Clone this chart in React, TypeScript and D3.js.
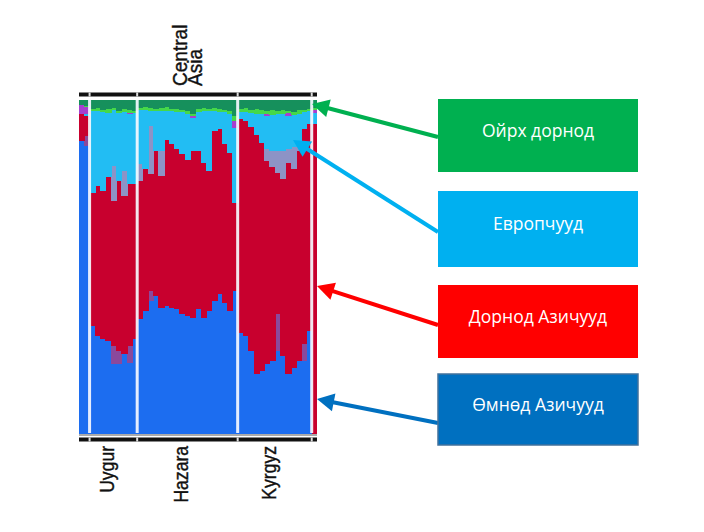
import React from "react";
import * as d3 from "d3";

// ---- data ----
const populationNames = ["", "Uygur", "Hazara", "Kyrgyz", ""];
const populationSizes = [2, 9, 19, 14, 1];
const regionLabel = ["Central", "Asia"];

const componentKeys = ["blue", "slateLow", "red", "slateHigh", "lightBlue", "purple", "brightGreen", "darkGreen"];

// ancestry shares (%) per individual column, left to right
const blue = [87.9, 86.4,
  32.4, 29.4, 28.5, 27.9, 21.0, 21.0, 24.0, 21.3, 28.5,
  34.5, 36.9, 39.9, 41.4, 37.8, 38.4, 37.8, 37.5, 36.0, 35.4, 34.8, 37.5, 34.8, 36.9, 39.9, 42.0, 39.3, 36.9, 42.9,
  30.3, 29.4, 24.9, 18.0, 18.9, 21.0, 21.9, 24.9, 23.4, 18.0, 19.8, 21.9, 21.9, 30.9,
  0];
const slateLow = [0, 3.0,
  0, 0, 0, 0, 5.4, 3.9, 0, 5.1, 0,
  0, 0, 3.0, 0, 0, 0, 0, 0, 0, 0, 0, 0, 0, 0, 0, 0, 0, 0, 0,
  0, 0, 0, 0, 0, 0, 0, 11.1, 0, 0, 0, 0, 5.1, 0,
  0];
const red = [8.1, 6.0,
  39.9, 45.0, 44.4, 49.2, 43.5, 51.0, 47.4, 48.6, 46.5,
  41.4, 42.6, 35.1, 43.5, 39.6, 49.8, 49.2, 48.0, 48.0, 46.8, 50.1, 47.4, 46.5, 42.0, 51.0, 49.5, 47.7, 47.4, 26.4,
  64.2, 64.5, 67.2, 71.7, 68.4, 60.9, 58.2, 42.3, 53.1, 63.3, 59.7, 63.0, 64.5, 62.1,
  93.0];
const slateHigh = [0, 0,
  0, 0, 0, 0, 10.5, 0, 7.5, 0, 0,
  5.1, 0, 14.4, 0, 7.5, 0, 0, 0, 0, 0, 0, 0, 0, 0, 0, 0, 0, 0, 0,
  0, 0, 0, 0, 0, 3.6, 4.8, 6.6, 8.4, 4.2, 6.6, 3.0, 0, 0,
  0];
const lightBlue = [0, 0.6,
  24.6, 22.5, 23.7, 19.2, 16.8, 20.4, 17.7, 21.0, 21.3,
  16.2, 17.7, 4.5, 12.0, 12.0, 8.7, 9.9, 11.1, 12.6, 13.8, 9.9, 11.7, 15.6, 18.0, 6.0, 5.1, 9.6, 11.7, 22.5,
  2.1, 2.7, 4.2, 6.3, 8.7, 9.9, 10.8, 11.1, 11.1, 9.9, 9.6, 8.1, 5.1, 3.9,
  3.3];
const purple = [2.7, 2.1,
  0, 0, 0, 0, 0, 0, 0, 0.3, 0,
  0, 0, 0, 0, 0, 0, 0, 0, 0, 0, 0.6, 0, 0, 0, 0, 0, 0, 0, 2.1,
  0, 0, 0, 0, 0, 0.6, 0, 0, 0, 0.9, 0, 0, 0, 0,
  0.9];
const brightGreen = [0, 0.3,
  0.6, 0.9, 0.6, 1.2, 0.6, 0.6, 0.9, 0.9, 0.6,
  0.6, 0.9, 0.9, 0.6, 0.9, 1.2, 0.6, 0.9, 0.6, 0.9, 0.6, 0.9, 0.9, 0.6, 0.9, 0.9, 0.6, 0.9, 1.5,
  0.9, 1.2, 0.9, 1.5, 1.2, 0.9, 1.5, 0.9, 1.2, 0.6, 0.9, 1.2, 0.6, 0.6,
  0.6];
const darkGreen = [1.2, 1.5,
  2.4, 2.1, 2.7, 2.4, 2.1, 3.0, 2.4, 2.7, 3.0,
  2.1, 1.8, 2.1, 2.4, 2.1, 1.8, 2.4, 2.4, 2.7, 3.0, 3.9, 2.4, 2.1, 2.4, 2.1, 2.4, 2.7, 3.0, 4.5,
  2.4, 2.1, 2.7, 2.4, 2.7, 3.0, 2.7, 3.0, 2.7, 3.0, 3.3, 2.7, 2.7, 2.4,
  2.1];

const legendLabels = ["Ойрх дорнод", "Европчууд", "Дорнод Азичууд", "Өмнөд Азичууд"];
const legendColors = ["#00b050", "#00b0f0", "#ff0000", "#0070c0"];

const componentColors: Record<string, string> = {
  blue: "#1f6df0",
  slateLow: "#8a4a9c",
  red: "#c8002e",
  slateHigh: "#8d93c6",
  lightBlue: "#20bdf3",
  purple: "#a63fcf",
  brightGreen: "#44d84a",
  darkGreen: "#17905c",
};

const series: Record<string, number[]> = { blue, slateLow, red, slateHigh, lightBlue, purple, brightGreen, darkGreen };

export default function App() {
  const W = 704, H = 532;
  const left = 79, right = 317, top = 100, bottom = 433;
  const N = blue.length;
  const rows = d3.range(N).map((i) => {
    const r: any = { i };
    componentKeys.forEach((k) => (r[k] = series[k][i]));
    return r;
  });
  const stacked = d3.stack<any>().keys(componentKeys).offset(d3.stackOffsetExpand)(rows);
  const x = d3.scaleLinear().domain([0, N]).range([left, right]);
  const y = d3.scaleLinear().domain([0, 1]).range([bottom, top]);

  const cum = d3.cumsum(populationSizes);
  const starts = [0, ...Array.from(cum).slice(0, -1)];
  const separators = Array.from(cum).slice(0, -1).map((c) => x(c));

  // legend layout
  const boxX = 438, boxW = 200;
  const boxTops = [99, 191, 285, 374];
  const boxHeights = [73, 76, 73, 71];
  const textBase = [137, 230, 323, 411];
  const arrowStart = [[438, 137], [438, 232], [438, 325], [438, 423]];
  const arrowTip = [[312, 104], [293, 140], [317, 286], [317, 399]];

  const arrows = arrowStart.map((s, i) => {
    const t = arrowTip[i];
    const dx = t[0] - s[0], dy = t[1] - s[1];
    const len = Math.hypot(dx, dy);
    const ux = dx / len, uy = dy / len;
    const L = 17, Wd = 9;
    const bx = t[0] - ux * L, by = t[1] - uy * L;
    const px = -uy, py = ux;
    return {
      line: [s[0], s[1], bx + ux * 2, by + uy * 2],
      head: `${t[0]},${t[1]} ${bx + px * Wd},${by + py * Wd} ${bx - px * Wd},${by - py * Wd}`,
      color: legendColors[i],
    };
  });

  const colW = x(1) - x(0);

  return (
    <svg width={W} height={H} style={{ position: "absolute", left: 0, top: 0, background: "#fff" }}>
      <defs>
        <filter id="soft" x="-5%" y="-5%" width="110%" height="110%">
          <feGaussianBlur stdDeviation="0.6" />
        </filter>
      </defs>
      <g filter="url(#soft)">
        {stacked.map((s) => (
          <g key={s.key} fill={componentColors[s.key]} shapeRendering="crispEdges">
            {s.map((d, i) =>
              d[1] - d[0] > 0 ? (
                <rect key={i} x={x(i)} width={i === N - 1 ? colW : colW + 1} y={y(d[1])} height={y(d[0]) - y(d[1]) + 0.5} />
              ) : null
            )}
          </g>
        ))}
        {separators.map((sx, i) => (
          <rect key={i} x={sx - 1.5} y={top} width={3} height={bottom - top} fill="#f6f9ff" opacity={0.92} />
        ))}
      </g>
      {/* frame bars */}
      <rect x={left} y={92.5} width={right - left} height={4} fill="#111" />
      <rect x={left} y={434} width={right - left} height={2} fill="#aaa" />
      <rect x={left} y={437.5} width={right - left} height={4} fill="#111" />
      {separators.map((sx, i) => (
        <g key={i}>
          <rect x={sx - 1} y={92.5} width={2} height={4} fill="#ddd" />
          <rect x={sx - 1} y={437.5} width={2} height={4} fill="#ddd" />
        </g>
      ))}
      {/* region label */}
      {regionLabel.map((t, i) => (
        <text key={t} transform={`translate(${187 + i * 14.5},86) rotate(-90) scale(0.93,1)`} textAnchor="start"
          fontFamily="Liberation Sans, Arial, sans-serif" fontSize={20.5} fill="#111" stroke="#111" strokeWidth={0.4}>
          {t}
        </text>
      ))}
      {/* population labels */}
      {populationNames.map((n, i) =>
        n ? (
          <text key={i} transform={`translate(${(x(starts[i]) + x(cum[i])) / 2 + 1},446) rotate(-90) scale(0.9,1)`} textAnchor="end"
            fontFamily="Liberation Sans, Arial, sans-serif" fontSize={19.5} fill="#111" stroke="#111" strokeWidth={0.4}>
            {n}
          </text>
        ) : null
      )}
      {/* arrows */}
      {arrows.map((a, i) => (
        <g key={i}>
          <line x1={a.line[0]} y1={a.line[1]} x2={a.line[2]} y2={a.line[3]} stroke={a.color} strokeWidth={4} />
          <polygon points={a.head} fill={a.color} />
        </g>
      ))}
      {/* legend boxes */}
      {legendLabels.map((l, i) => (
        <g key={l}>
          <rect x={boxX} y={boxTops[i]} width={boxW} height={boxHeights[i]} fill={legendColors[i]}
            stroke={i === 3 ? "#41719c" : "none"} strokeWidth={1.5} />
          <text x={boxX + boxW / 2} y={textBase[i]} textAnchor="middle" fontFamily="Open Sans, sans-serif"
            fontSize={17.5} fill="#fff">
            {l}
          </text>
        </g>
      ))}
    </svg>
  );
}
